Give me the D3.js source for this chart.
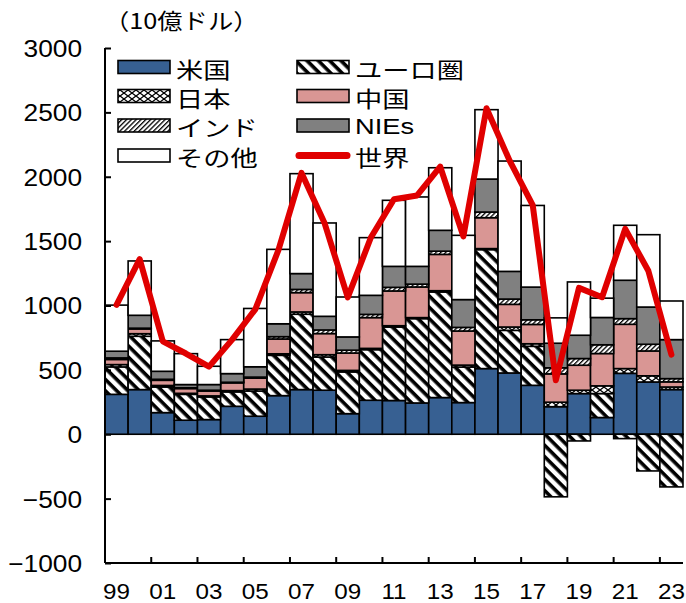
<!DOCTYPE html>
<html><head><meta charset="utf-8">
<script src="https://cdn.jsdelivr.net/npm/d3@7"></script>
<style>
html,body{margin:0;padding:0;background:#fff;}
svg{display:block;}
</style></head>
<body>
<svg id="chart" width="686" height="603"></svg>
<script>
const years = ["99","00","01","02","03","04","05","06","07","08","09","10","11","12","13","14","15","16","17","18","19","20","21","22","23"];
const tickLabels = ["99","01","03","05","07","09","11","13","15","17","19","21","23"];
const yTicks = [-1000,-500,0,500,1000,1500,2000,2500,3000];

const us    = [310,347,168,109,114,217,140,300,347,342,160,264,262,243,285,246,510,476,380,214,316,130,473,406,347];
const euro  = [213,414,199,201,176,112,196,313,585,258,324,393,571,655,820,276,924,331,303,-486,-52,186,-34,-285,-409];
const japan = [18,20,12,8,8,10,15,12,18,18,12,10,10,8,10,15,8,26,20,35,26,60,37,48,20];
const china = [40,37,40,37,38,60,85,115,150,164,135,239,270,238,282,265,240,176,150,220,194,251,344,193,40];
const india = [12,6,8,6,6,5,8,18,25,28,22,25,28,22,25,28,44,41,36,47,52,68,44,52,25];
const nies  = [52,100,62,25,44,67,80,100,123,106,103,148,163,138,162,216,256,215,254,191,181,212,298,289,303];
const other = [358,422,236,240,142,264,453,578,776,725,310,448,513,539,486,499,539,857,634,197,414,150,427,562,300];
const world = [1005,1360,722,627,525,735,970,1430,2030,1638,1063,1528,1825,1855,2078,1537,2532,2125,1780,419,1137,1064,1595,1270,618];

const seriesNames = ["米国","ユーロ圏","日本","中国","インド","NIEs","その他"];
const seriesData = [us, euro, japan, china, india, nies, other];

const svg = d3.select("#chart");
const mLeft = 105, mRight = 683, mTop = 48, mBottom = 563;

const x = d3.scaleBand().domain(years).range([mLeft, mRight]).padding(0);
const y = d3.scaleLinear().domain([-1000, 3000]).range([mBottom, mTop]);

// patterns
const defs = svg.append("defs");
const pEuro = defs.append("pattern").attr("id","pEuro").attr("patternUnits","userSpaceOnUse")
  .attr("width",8).attr("height",8).attr("patternTransform","rotate(45)");
pEuro.append("rect").attr("width",8).attr("height",8).attr("fill","#fff");
pEuro.append("rect").attr("width",8).attr("height",3.6).attr("fill","#000");

const pIndia = defs.append("pattern").attr("id","pIndia").attr("patternUnits","userSpaceOnUse")
  .attr("width",3.4).attr("height",3.4).attr("patternTransform","rotate(-45)");
pIndia.append("rect").attr("width",3.4).attr("height",3.4).attr("fill","#fff");
pIndia.append("rect").attr("width",3.4).attr("height",1.3).attr("fill","#000");

const pJapan = defs.append("pattern").attr("id","pJapan").attr("patternUnits","userSpaceOnUse")
  .attr("width",8).attr("height",6);
pJapan.append("rect").attr("width",8).attr("height",6).attr("fill","#fff");
pJapan.append("path").attr("d","M0,0 L8,6 M0,6 L8,0").attr("stroke","#000").attr("stroke-width",1.3);

const fills = ["#376092","url(#pEuro)","url(#pJapan)","#D99694","url(#pIndia)","#808080","#ffffff"];

// stack data
const table = years.map((yr, i) => {
  const o = {year: yr};
  seriesNames.forEach((n, k) => o[n] = seriesData[k][i]);
  return o;
});
const stacked = d3.stack().keys(seriesNames).offset(d3.stackOffsetDiverging)(table);

const gBars = svg.append("g");
stacked.forEach((s, k) => {
  gBars.append("g").selectAll("rect").data(s).join("rect")
    .attr("x", d => x(d.data.year))
    .attr("width", x.bandwidth())
    .attr("y", d => y(Math.max(d[0], d[1])))
    .attr("height", d => Math.abs(y(d[0]) - y(d[1])))
    .attr("fill", fills[k])
    .attr("stroke", "#000")
    .attr("stroke-width", 1.6)
    .attr("display", d => Math.abs(d[1]-d[0]) < 0.5 ? "none" : null);
});

// world line
const line = d3.line().x((d, i) => x(years[i]) + x.bandwidth()/2).y(d => y(d));
svg.append("path").datum(world).attr("d", line)
  .attr("fill","none").attr("stroke","#E00000").attr("stroke-width",6)
  .attr("stroke-linejoin","round").attr("stroke-linecap","round");

// axes
const numFont = "'Liberation Sans', Arial, sans-serif";
const jpFont = "'Noto Sans CJK JP', sans-serif";
const yAxis = d3.axisLeft(y).tickValues(yTicks).tickSize(-6).tickPadding(0).tickFormat(d => d < 0 ? "−" + Math.abs(d) : d);
const gy = svg.append("g").attr("transform", `translate(${mLeft},0)`).call(yAxis);
gy.select(".domain").attr("stroke","#000").attr("stroke-width",2).attr("d", `M0,${mTop}V${mBottom}`);
gy.selectAll(".tick line").attr("stroke","#000").attr("stroke-width",2);
gy.selectAll(".tick text").attr("x", -20.5).attr("font-family", numFont).attr("font-size", 23.5)
  .attr("fill","#000").attr("text-anchor","end").attr("dy","0.36em")
  .attr("transform", "scale(1.12,1)");

// bottom axis: domain line, ticks at boundaries every 2 categories
const gx = svg.append("g");
gx.append("path").attr("d", `M${mLeft},${mBottom}H${mRight}`).attr("stroke","#000").attr("stroke-width",2).attr("fill","none");
const bTicks = years.filter((d, i) => i % 2 === 0 && i > 0);
gx.selectAll("line.bt").data(bTicks).join("line")
  .attr("x1", d => x(d)).attr("x2", d => x(d))
  .attr("y1", mBottom).attr("y2", mBottom - 6)
  .attr("stroke","#000").attr("stroke-width",2);
gx.selectAll("text").data(tickLabels).join("text")
  .attr("font-family", numFont).attr("font-size", 22).attr("fill","#000")
  .attr("text-anchor","middle").attr("dominant-baseline","central")
  .attr("transform", d => `translate(${x(d) + x.bandwidth()/2},${591}) scale(1.1,1)`)
  .text(d => d);

// title
svg.append("text").attr("font-family", jpFont).attr("font-size", 22).attr("fill","#000")
  .attr("dominant-baseline","central")
  .attr("transform","translate(104,20) scale(1.15,1)")
  .text("（10億ドル）");

// legend
const legendItems = [
  {name:"米国", k:0, col:0, row:0},
  {name:"日本", k:2, col:0, row:1},
  {name:"インド", k:4, col:0, row:2},
  {name:"その他", k:6, col:0, row:3},
  {name:"ユーロ圏", k:1, col:1, row:0},
  {name:"中国", k:3, col:1, row:1},
  {name:"NIEs", k:5, col:1, row:2},
  {name:"世界", k:-1, col:1, row:3}
];
const legX = [118, 297], legY = [67, 96, 125.5, 155.5];
const gl = svg.append("g");
legendItems.forEach(it => {
  const lx = legX[it.col], ly = legY[it.row];
  if (it.k >= 0) {
    gl.append("rect").attr("x", lx).attr("y", ly - 6.5).attr("width", 52).attr("height", 13)
      .attr("fill", fills[it.k]).attr("stroke","#000").attr("stroke-width",1.6);
  } else {
    gl.append("line").attr("x1", lx + 2).attr("x2", lx + 50).attr("y1", ly).attr("y2", ly)
      .attr("stroke","#E00000").attr("stroke-width",7).attr("stroke-linecap","round");
  }
  const isLatin = /^[A-Za-z]+$/.test(it.name);
  gl.append("text").attr("font-family", isLatin ? numFont : jpFont).attr("font-size", 22).attr("fill","#000")
    .attr("dominant-baseline","central")
    .attr("transform", `translate(${lx + 58},${ly + 1}) scale(1.24,1)`)
    .text(it.name);
});
</script>
</body></html>
